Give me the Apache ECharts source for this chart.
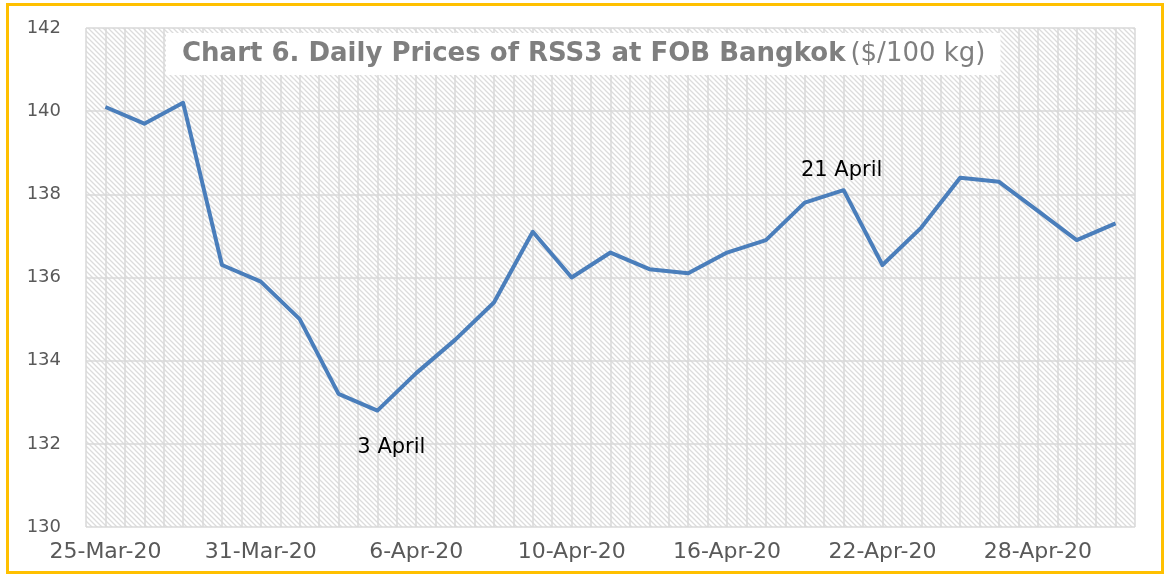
<!DOCTYPE html>
<html>
<head>
<meta charset="utf-8">
<script src="https://cdn.jsdelivr.net/npm/echarts@6/dist/echarts.min.js"></script>
<style>
html, body { margin: 0; padding: 0; background: #fff; }
#chart { width: 1167px; height: 578px; }
</style>
</head>
<body>
<div id="chart"></div>
<script>
// trading days, 25-Mar-20 .. 30-Apr-20
var dates = ['25-Mar-20', '26-Mar-20', '27-Mar-20', '30-Mar-20', '31-Mar-20',
    '1-Apr-20', '2-Apr-20', '3-Apr-20', '6-Apr-20', '7-Apr-20', '8-Apr-20', '9-Apr-20',
    '10-Apr-20', '13-Apr-20', '14-Apr-20', '15-Apr-20', '16-Apr-20', '17-Apr-20',
    '20-Apr-20', '21-Apr-20', '22-Apr-20', '23-Apr-20', '24-Apr-20', '27-Apr-20',
    '28-Apr-20', '29-Apr-20', '30-Apr-20'];
var prices = [140.1, 139.7, 140.2, 136.3, 135.9, 135.0, 133.2, 132.8, 133.7, 134.5,
    135.4, 137.1, 136.0, 136.6, 136.2, 136.1, 136.6, 136.9, 137.8, 138.1, 136.3,
    137.2, 138.4, 138.3, 137.6, 136.9, 137.3];
var yTicks = [130, 132, 134, 136, 138, 140, 142];
var noteIndex = [7, 19];
var noteText = ['3 April', '21 April'];
var notePos = ['bottom', 'top'];

var FONT = 'DejaVu Sans';

// hatched plot background
function hatch() {
    var c = document.createElement('canvas');
    c.width = 5; c.height = 5;
    var ctx = c.getContext('2d');
    ctx.fillStyle = '#ffffff';
    ctx.fillRect(0, 0, 5, 5);
    ctx.strokeStyle = '#dcdcdc';
    ctx.lineWidth = 1.3;
    ctx.beginPath();
    ctx.moveTo(-1, -1); ctx.lineTo(6, 6);
    ctx.moveTo(-1, 4); ctx.lineTo(1, 6);
    ctx.moveTo(4, -1); ctx.lineTo(6, 1);
    ctx.stroke();
    return c;
}

var seriesData = prices.map(function (v, i) {
    var item = { value: [i, v] };
    var k = noteIndex.indexOf(i);
    if (k >= 0) {
        item.label = {
            show: true,
            formatter: noteText[k],
            position: notePos[k],
            distance: notePos[k] === 'top' ? 9 : 26,
            offset: notePos[k] === 'top' ? [-2, 0] : [14, 0],
            color: '#000',
            fontSize: 21,
            fontFamily: FONT
        };
    }
    return item;
});

var chart = echarts.init(document.getElementById('chart'));
var option = {
    animation: false,
    backgroundColor: '#fff',
    title: {
        text: '{b|Chart 6. Daily Prices of RSS3 at FOB Bangkok} {n|($/100 kg)}',
        left: 166,
        top: 33,
        backgroundColor: '#fff',
        padding: [8, 15, 8, 16],
        textStyle: {
            rich: {
                b: { fontFamily: FONT, fontWeight: 'bold', fontSize: 26, color: '#7f7f7f' },
                n: { fontFamily: FONT, fontWeight: 'normal', fontSize: 26, color: '#7f7f7f' }
            }
        },
        z: 10
    },
    grid: {
        left: 86,
        right: 32,
        top: 28,
        bottom: 51,
        show: true,
        borderWidth: 0,
        backgroundColor: { image: hatch(), repeat: 'repeat' }
    },
    xAxis: {
        type: 'value',
        min: -0.5,
        max: dates.length - 0.5,
        interval: 0.5,
        axisLine: { show: false },
        axisTick: { show: false },
        splitLine: { show: true, lineStyle: { color: '#d9d9d9', width: 1.5 } },
        axisLabel: {
            margin: 14,
            color: '#595959',
            fontSize: 22,
            fontFamily: FONT,
            showMinLabel: true,
            showMaxLabel: true,
            formatter: function (v) {
                if (Math.abs(v - Math.round(v)) > 0.01) return '';
                var i = Math.round(v);
                return (i % 4 === 0 && dates[i]) ? dates[i] : '';
            }
        }
    },
    yAxis: {
        type: 'value',
        min: yTicks[0],
        max: yTicks[yTicks.length - 1],
        interval: 2,
        axisLine: { show: false },
        axisTick: { show: false },
        splitLine: { show: true, lineStyle: { color: '#d9d9d9', width: 1.5 } },
        axisLabel: {
            margin: 25,
            color: '#595959',
            fontSize: 18,
            fontFamily: FONT
        }
    },
    series: [
        {
            type: 'line',
            data: seriesData,
            showSymbol: true,
            symbol: 'circle',
            symbolSize: 0,
            lineStyle: { color: '#4a7ebb', width: 4, join: 'round' },
            itemStyle: { color: '#4a7ebb' },
            z: 5
        }
    ],
    graphic: [
        {
            type: 'rect',
            shape: { x: 7.5, y: 4.5, width: 1155, height: 568 },
            style: { fill: 'none', stroke: '#ffc000', lineWidth: 3 },
            z: 100
        }
    ]
};
chart.setOption(option);
</script>
</body>
</html>
